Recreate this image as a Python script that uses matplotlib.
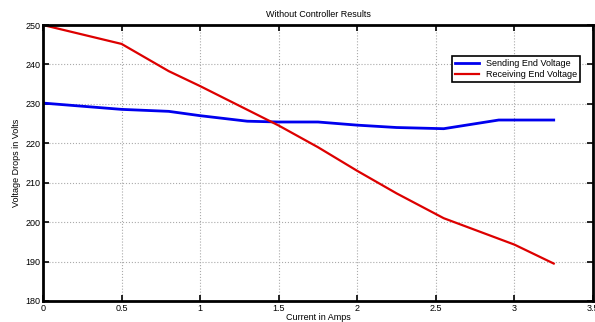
import matplotlib
matplotlib.use("Agg")
import matplotlib.pyplot as plt

plt.rcParams['font.family'] = ['Liberation Sans', 'DejaVu Sans']

# current in amps
current_send = [0, 0.5, 0.8, 1.0, 1.3, 1.5, 1.75, 2.0, 2.25, 2.55, 2.9, 3.25]
sending_v = [230.2, 228.6, 228.1, 227.0, 225.6, 225.4, 225.4, 224.6, 224.0, 223.7, 225.9, 225.9]

current_recv = [0, 0.5, 0.8, 1.0, 1.25, 1.5, 1.75, 2.0, 2.25, 2.55, 3.0, 3.25]
receiving_v = [250, 245.2, 238.3, 234.5, 229.5, 224.5, 219.0, 213.0, 207.3, 201.0, 194.3, 189.5]

xticks = [0, 0.5, 1, 1.5, 2, 2.5, 3, 3.5]
yticks = [180, 190, 200, 210, 220, 230, 240, 250]

fig = plt.figure(figsize=(5.95, 3.22), dpi=100)
ax = fig.add_axes([43/595, 21/322, 550/595, 276/322])

ax.plot(current_send, sending_v, color='#0000ee', lw=2, label='Sending End Voltage')
ax.plot(current_recv, receiving_v, color='#dd0000', lw=1.6, label='Receiving End Voltage')

ax.set_xlim(0, 3.5)
ax.set_ylim(180, 250)
ax.set_xticks(xticks)
ax.set_xticklabels(['0', '0.5', '1', '1.5', '2', '2.5', '3', '3.5'])
ax.set_yticks(yticks)
ax.tick_params(direction='in', top=True, right=True, labelsize=6.5, length=4, width=1.2, pad=2)
ax.grid(True, linestyle=':', color='#aaaaaa', lw=0.8)
for s in ax.spines.values():
    s.set_linewidth(2)

ax.set_title('Without Controller Results', fontsize=6.5, pad=6)
ax.set_xlabel('Current in Amps', fontsize=6.5, labelpad=0.5)
ax.set_ylabel('Voltage Drops in Volts', fontsize=6.5, labelpad=3)

leg = ax.legend(loc='upper right', bbox_to_anchor=(0.985, 0.905), fontsize=6.5,
                fancybox=False, framealpha=1, edgecolor='black',
                handlelength=2.6, borderpad=0.35, labelspacing=0.25)
leg.get_frame().set_linewidth(1.2)

fig.savefig('out.png', dpi=100)
